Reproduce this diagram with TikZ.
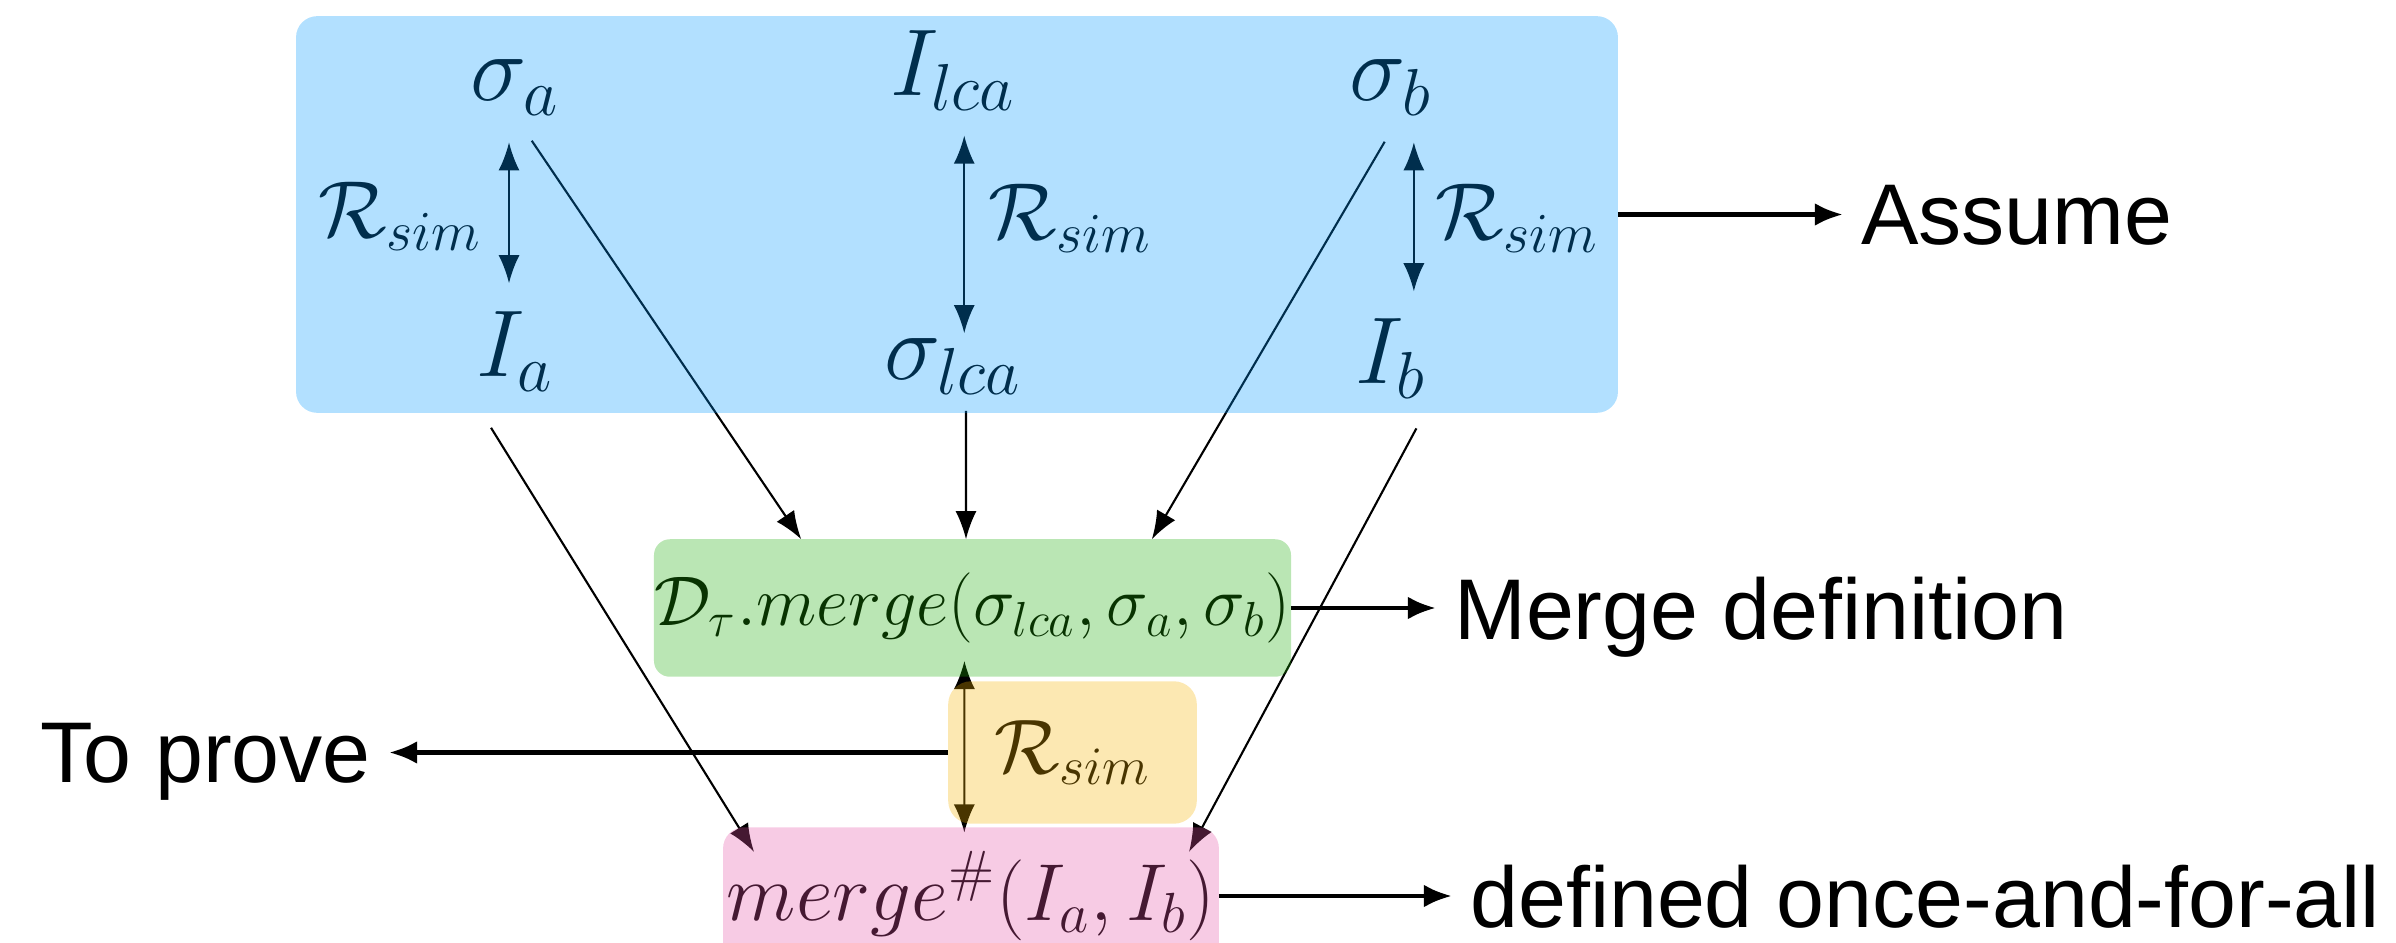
\RequirePackage{fix-cm}
\documentclass[tikz,border=0pt]{standalone}
\usepackage[no-math]{fontspec}
\newfontfamily\lblfont{Liberation Sans}
\usetikzlibrary{arrows.meta}

\definecolor{boxblue}{rgb}{0,0.6,1}
\definecolor{boxgreen}{rgb}{0.11,0.67,0.02}
\definecolor{boxyellow}{rgb}{0.96,0.70,0}
\definecolor{boxpink}{rgb}{0.9,0.33,0.65}

\begin{document}
\begin{tikzpicture}[
        x=0.01cm, y=-0.01cm,
        var/.style={inner sep=0pt, anchor=base, font=\fontsize{27}{32}\selectfont},
        rel/.style={inner sep=0pt, anchor=base, font=\fontsize{23}{28}\selectfont},
        frame/.style={inner sep=0pt},
        lbl/.style={inner sep=5pt, text depth=0pt, font=\lblfont\fontsize{24.5}{29}\selectfont},
        arr/.style={-{Latex[length=8pt,width=6pt]}, line width=0.6pt},
        dbl/.style={{Latex[length=8pt,width=6pt]}-{Latex[length=8pt,width=6pt]}, line width=0.6pt},
        note/.style={-{Latex[length=8pt,width=6.5pt]}, line width=1.4pt},
        tint/.style={fill=#1, fill opacity=0.3}
    ]
    \useasboundingbox (0,0) rectangle (2396,943);

    \node[frame, minimum width=375.5pt, minimum height=112.4pt] (top) at (957,214.5) {};
    \node[frame, minimum width=180.7pt, minimum height=38.7pt, font=\fontsize{20}{24}\selectfont] (md) at (972.5,608)
        {$\mathcal{D}_\tau.merge(\sigma_{lca},\sigma_a,\sigma_b)$};
    \node[frame, minimum width=70.3pt, minimum height=40.1pt, font=\fontsize{22}{26}\selectfont] (ry) at (1072.5,752.5)
        {$\mathcal{R}_{sim}$};
    \node[frame, minimum width=140.6pt, minimum height=38.7pt, font=\fontsize{23}{28}\selectfont] (mh) at (971,896)
        {$merge^{\#}(I_a,I_b)$};

    \node[var] (sa) at (515,101) {$\sigma_a$};
    \node[var] (ilca) at (953,96) {$I_{lca}$};
    \node[var] (sb) at (1391,101) {$\sigma_b$};
    \node[var] (ia) at (515,377) {$I_a$};
    \node[var] (slca) at (953,380) {$\sigma_{lca}$};
    \node[var] (ib) at (1391,384) {$I_b$};
    \node[rel] (rl) at (400,238) {$\mathcal{R}_{sim}$};
    \node[rel] (rm) at (1070,240) {$\mathcal{R}_{sim}$};
    \node[rel] (rr) at (1517,240) {$\mathcal{R}_{sim}$};

    \draw[dbl, shorten <=7.5pt, shorten >=8pt] ([xshift=-1.7pt]sa.south) -- ([xshift=-1.7pt]ia.north);
    \draw[dbl, shorten <=7pt, shorten >=1.5pt] ([xshift=3.2pt]ilca.south) -- ([xshift=3.2pt]slca.north);
    \draw[dbl, shorten <=7.5pt, shorten >=7.7pt] ([xshift=6.5pt]sb.south) -- ([xshift=6.5pt]ib.north);

    \draw[arr, shorten <=8.5pt] (sa.south) -- ([xshift=-48.7pt]md.north);
    \draw[arr, shorten <=4.5pt] ([xshift=3.7pt]slca.south) -- ([xshift=-1.85pt]md.north);
    \draw[arr, shorten <=8.5pt] ([xshift=2.5pt]sb.south) -- ([xshift=51pt]md.north);
    \draw[arr, shorten <=12pt] ([xshift=-2pt]ia.south west) -- ([xshift=-61.7pt,yshift=-7pt]mh.north);
    \draw[arr, shorten <=9.5pt] ([xshift=1.5pt]ib.south east) -- ([xshift=62pt,yshift=-7pt]mh.north);
    \draw[dbl, shorten <=-4.5pt, shorten >=-1.5pt] ([xshift=-2.3pt]md.south) -- ([xshift=-1.9pt]mh.north);

    \node[lbl, anchor=west] (asm) at (1843,214.5) {Assume};
    \node[lbl, anchor=west] (mdef) at (1436,608) {Merge definition};
    \node[lbl, anchor=west] (def) at (1452,896) {defined once-and-for-all};
    \node[lbl, anchor=east] (tp) at (389,752.5) {To prove};

    \draw[note] (top.east) -- (asm.west);
    \draw[note] (md.east) -- (mdef.west);
    \draw[note] (mh.east) -- (def.west);
    \draw[note] (ry.west) -- (tp.east);

    \fill[tint=boxblue, rounded corners=6pt] (top.south west) rectangle (top.north east);
    \fill[tint=boxgreen, rounded corners=4.5pt] (md.south west) rectangle (md.north east);
    \fill[tint=boxyellow, rounded corners=6.5pt] (ry.south west) rectangle (ry.north east);
    \fill[tint=boxpink, rounded corners=6pt] (mh.south west) rectangle (mh.north east);
\end{tikzpicture}
\end{document}
